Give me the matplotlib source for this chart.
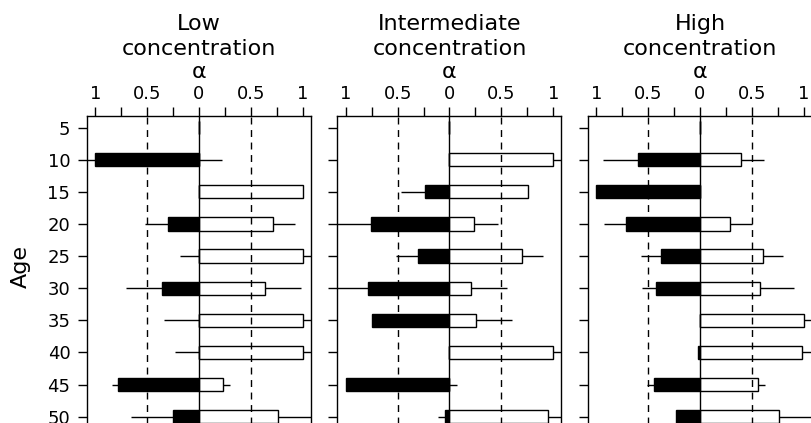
import numpy as np
import matplotlib
matplotlib.use('Agg')
import matplotlib.pyplot as plt
import matplotlib.transforms as mtransforms

plt.rcParams['font.family'] = ['DejaVu Sans']

# data: bar length (alpha) and end of whisker, left (black) and right (white)
ages = [5, 10, 15, 20, 25, 30, 35, 40, 45, 50]
panel_titles = ['Low', 'Intermediate', 'High']

low_neg = [0, 1.0, 0, 0.30, 0, 0.36, 0, 0, 0.78, 0.25]
low_neg_ci = [0, 1.2, 0, 0.52, 0.18, 0.70, 0.34, 0.23, 0.84, 0.66]
low_pos = [0, 0, 1.0, 0.71, 1.0, 0.64, 1.0, 1.0, 0.23, 0.76]
low_pos_ci = [0, 0.22, 1.0, 0.93, 1.2, 0.98, 1.2, 1.2, 0.30, 1.2]

mid_neg = [0, 0, 0.24, 0.76, 0.30, 0.79, 0.75, 0, 1.0, 0.04]
mid_neg_ci = [0, 0, 0.47, 1.2, 0.52, 1.2, 0.75, 0, 1.0, 0.11]
mid_pos = [0, 1.0, 0.76, 0.24, 0.70, 0.21, 0.26, 1.0, 0, 0.95]
mid_pos_ci = [0, 1.2, 0.76, 0.47, 0.90, 0.55, 0.60, 1.2, 0.07, 1.2]

high_neg = [0, 0.60, 1.0, 0.71, 0.38, 0.42, 0, 0.02, 0.44, 0.23]
high_neg_ci = [0, 0.94, 1.0, 0.93, 0.57, 0.56, 0, 0.02, 0.51, 0.23]
high_pos = [0, 0.40, 0, 0.29, 0.61, 0.58, 1.0, 0.98, 0.56, 0.76]
high_pos_ci = [0, 0.62, 0, 0.50, 0.80, 0.91, 1.2, 1.2, 0.63, 1.2]

panels = [
    (low_neg, low_neg_ci, low_pos, low_pos_ci),
    (mid_neg, mid_neg_ci, mid_pos, mid_pos_ci),
    (high_neg, high_neg_ci, high_pos, high_pos_ci),
]

xticks = np.arange(-1, 1.01, 0.25)
xticklabels = ['1', '', '0.5', '', '0', '', '0.5', '', '1']

W, H = 812, 423
fig = plt.figure(figsize=(W / 100, H / 100), dpi=100)

lefts = [87, 337.5, 588]
top_px = 115.7
px_per_year = 6.427
ytop, ybot = 3.16, 56
ax_h = (ybot - ytop) * px_per_year
lw = 1.0

for i, (title, (neg, neg_ci, pos, pos_ci)) in enumerate(zip(panel_titles, panels)):
    ax = fig.add_axes([lefts[i] / W, 1 - (top_px + ax_h) / H, 224 / W, ax_h / H])
    ages_a = np.array(ages)
    ax.barh(ages_a, -np.array(neg), height=2.05, color='black', edgecolor='black', lw=lw, zorder=2)
    ax.barh(ages_a, pos, height=2.05, color='white', edgecolor='black', lw=lw, zorder=2)
    ax.hlines(ages_a, -np.array(neg_ci), -np.array(neg), color='black', lw=lw, zorder=1)
    ax.hlines(ages_a, pos, pos_ci, color='black', lw=lw, zorder=1)

    ax.axvline(0, color='black', lw=lw, zorder=3)
    for v in (-0.5, 0.5):
        ax.axvline(v, color='black', lw=lw, ls=(0, (5, 4)), zorder=3)

    ax.set_xlim(-1.08, 1.08)
    ax.set_ylim(ybot, ytop)
    ax.xaxis.tick_top()
    ax.set_xticks(xticks)
    ax.set_xticklabels(xticklabels)
    ax.set_yticks(ages)
    if i == 0:
        ax.set_yticklabels([str(a) for a in ages])
    else:
        ax.set_yticklabels([])
    ax.tick_params(axis='x', direction='out', length=6.5, width=lw, labelsize=13, pad=2.5)
    ax.tick_params(axis='y', direction='out', length=6.5, width=lw, labelsize=13, pad=5.5)
    for s in ax.spines.values():
        s.set_linewidth(lw)

    tr = mtransforms.blended_transform_factory(ax.transAxes, fig.transFigure)
    for txt, yb in ((title, 29.5), ('concentration', 55), ('\u03b1', 78.5)):
        ax.text(0.5, 1 - yb / H, txt, transform=tr, ha='center', va='baseline', fontsize=16)

fig.text(21 / W, 1 - 266.7 / H, 'Age', rotation=90, ha='center', va='center', fontsize=16)

fig.savefig('out.png', dpi=100)
